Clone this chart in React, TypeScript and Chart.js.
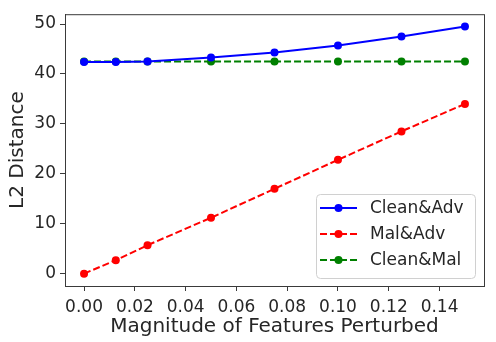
import React, { useEffect, useRef } from "react";
import { Chart, registerables } from "chart.js";

Chart.register(...registerables);

const xValues = [0, 0.0125, 0.025, 0.05, 0.075, 0.1, 0.125, 0.15];
const cleanAdv = [42.4, 42.4, 42.5, 43.3, 44.3, 45.7, 47.5, 49.5];
const malAdv = [0, 2.7, 5.7, 11.2, 17.0, 22.8, 28.5, 34.0];
const cleanMal = [42.5, 42.5, 42.5, 42.5, 42.5, 42.5, 42.5, 42.5];
const seriesNames = ["Clean&Adv", "Mal&Adv", "Clean&Mal"];
const xTickValues = [0, 0.02, 0.04, 0.06, 0.08, 0.1, 0.12, 0.14];
const yTickValues = [0, 10, 20, 30, 40, 50];
const xTitle = "Magnitude of Features Perturbed";
const yTitle = "L2 Distance";

const FONT = "'DejaVu Sans', sans-serif";
const TEXT = "#262626";
const SPINE = "#3a3a3a";
const colors = ["#0000ff", "#ff0000", "#008000"];
const dashes = [[], [7, 3], [7, 3]];

export default function App() {
  const ref = useRef<HTMLCanvasElement>(null);
  useEffect(() => {
    const canvas = ref.current!;
    const allSeries = [cleanAdv, malAdv, cleanMal];
    const frame = {
      id: "frame",
      afterDraw(chart: any) {
        const { ctx, chartArea: a } = chart;
        ctx.save();
        ctx.strokeStyle = SPINE;
        ctx.lineWidth = 1;
        ctx.strokeRect(a.left + 0.5, a.top + 0.5, a.right - a.left, a.bottom - a.top);
        // titles
        ctx.fillStyle = TEXT;
        ctx.font = `20px ${FONT}`;
        ctx.textAlign = "center";
        ctx.textBaseline = "alphabetic";
        ctx.fillText(xTitle, (a.left + a.right) / 2, 332);
        ctx.save();
        ctx.translate(23, (a.top + a.bottom) / 2);
        ctx.rotate(-Math.PI / 2);
        ctx.fillText(yTitle, 0, 0);
        ctx.restore();
        // legend
        const bx = 316, by = 194, bw = 159, bh = 84;
        ctx.beginPath();
        ctx.roundRect(bx + 0.5, by + 0.5, bw, bh, 4);
        ctx.fillStyle = "rgba(255,255,255,0.8)";
        ctx.fill();
        ctx.strokeStyle = "#d0d0d0";
        ctx.stroke();
        const rows = [208, 234, 260];
        ctx.font = `17px ${FONT}`;
        ctx.textAlign = "left";
        ctx.textBaseline = "middle";
        seriesNames.forEach((name, i) => {
          const y = rows[i];
          ctx.strokeStyle = colors[i];
          ctx.lineWidth = 2;
          ctx.setLineDash(dashes[i]);
          ctx.beginPath();
          ctx.moveTo(320, y);
          ctx.lineTo(357, y);
          ctx.stroke();
          ctx.setLineDash([]);
          ctx.fillStyle = colors[i];
          ctx.beginPath();
          ctx.arc(338.5, y, 4, 0, Math.PI * 2);
          ctx.fill();
          ctx.fillStyle = TEXT;
          ctx.fillText(name, 370, y + 1);
        });
        ctx.restore();
      },
    };
    const chart = new Chart(canvas, {
      type: "line",
      data: {
        datasets: allSeries.map((s, i) => ({
          label: seriesNames[i],
          data: s.map((y, j) => ({ x: xValues[j], y })),
          borderColor: colors[i],
          backgroundColor: colors[i],
          borderWidth: 2,
          borderDash: dashes[i],
          pointRadius: 4,
          pointHoverRadius: 4,
          pointBorderWidth: 0,
          pointBackgroundColor: colors[i],
          fill: false,
          tension: 0,
        })),
      },
      options: {
        responsive: false,
        animation: false,
        devicePixelRatio: 1,
        layout: { padding: { left: 0, top: 14, right: 12, bottom: 0 } },
        plugins: { legend: { display: false }, tooltip: { enabled: false } },
        scales: {
          x: {
            type: "linear",
            min: -0.0075,
            max: 0.1575,
            afterBuildTicks: (s: any) => {
              s.ticks = xTickValues.map((v) => ({ value: v }));
            },
            afterFit: (s: any) => {
              s.height = 56;
            },
            ticks: {
              callback: (v: any) => Number(v).toFixed(2),
              color: TEXT,
              font: { family: FONT, size: 17 },
              padding: 6,
              maxRotation: 0,
              autoSkip: false,
            },
            grid: { display: true, drawOnChartArea: false, drawTicks: true, tickLength: 5, color: SPINE },
            border: { display: true, color: SPINE },
          },
          y: {
            type: "linear",
            min: -2.475,
            max: 51.975,
            afterBuildTicks: (s: any) => {
              s.ticks = yTickValues.map((v) => ({ value: v }));
            },
            afterFit: (s: any) => {
              s.width = 65;
            },
            ticks: {
              callback: (v: any) => String(v),
              color: TEXT,
              font: { family: FONT, size: 17 },
              padding: 4,
              autoSkip: false,
            },
            grid: { display: true, drawOnChartArea: false, drawTicks: true, tickLength: 5, color: SPINE },
            border: { display: true, color: SPINE },
          },
        },
      },
      plugins: [frame],
    });
    return () => chart.destroy();
  }, []);
  return (
    <div style={{ position: "absolute", left: 0, top: 0, width: 496, height: 342, background: "#fff" }}>
      <canvas ref={ref} width={496} height={342} />
    </div>
  );
}
